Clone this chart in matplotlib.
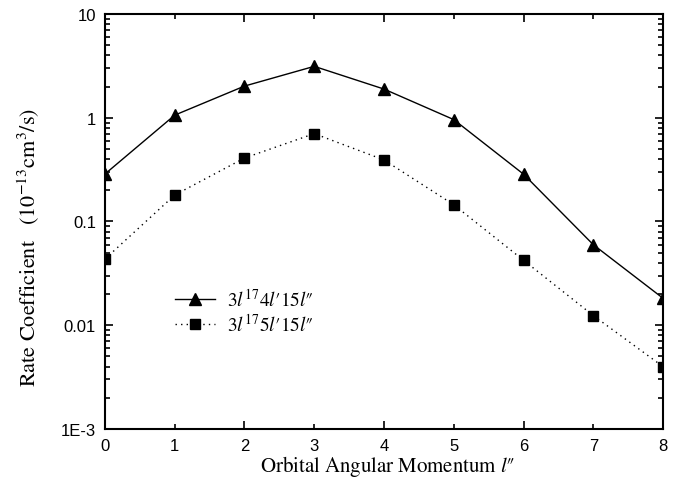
import matplotlib
matplotlib.use("Agg")
import matplotlib.pyplot as plt
from matplotlib.ticker import FixedLocator, FixedFormatter, LogLocator, NullFormatter

# Data
l_values = [0, 1, 2, 3, 4, 5, 6, 7, 8]
rate_4l = [0.287, 1.06, 2.02, 3.13, 1.89, 0.96, 0.286, 0.0598, 0.0182]
rate_5l = [0.0435, 0.18, 0.409, 0.703, 0.392, 0.145, 0.0423, 0.0124, 0.00399]
label_4l = "$3l^{17}4l\u203215l\u2033$"
label_5l = "$3l^{17}5l\u203215l\u2033$"
y_ticks = [1e-3, 1e-2, 1e-1, 1, 10]
y_ticklabels = ["1E-3", "0.01", "0.1", "1", "10"]
x_major = [0, 2, 4, 6, 8]
x_minor = [1, 3, 5, 7]

plt.rcParams['mathtext.fontset'] = 'stix'
plt.rcParams['font.family'] = 'Liberation Sans'

fig = plt.figure(figsize=(6.88, 4.89), dpi=100)
ax = fig.add_axes([0.1526, 0.1207, 0.9637 - 0.1526, 0.9693 - 0.1207])

ax.plot(l_values, rate_4l, color='black', lw=1.0, marker='^', markersize=9,
        label=label_4l)
ax.plot(l_values, rate_5l, color='black', lw=1.0, linestyle=(0, (1, 3)),
        marker='s', markersize=6.5, label=label_5l)

ax.set_yscale('log')
ax.set_ylim(1e-3, 10)
ax.set_xlim(0, 8)

ax.yaxis.set_major_locator(FixedLocator(y_ticks))
ax.yaxis.set_major_formatter(FixedFormatter(y_ticklabels))
ax.yaxis.set_minor_locator(LogLocator(base=10, subs=range(2, 10), numticks=20))
ax.yaxis.set_minor_formatter(NullFormatter())

ax.xaxis.set_major_locator(FixedLocator(x_major))
ax.xaxis.set_major_formatter(FixedFormatter([str(v) for v in x_major]))
ax.xaxis.set_minor_locator(FixedLocator(x_minor))
ax.xaxis.set_minor_formatter(FixedFormatter([str(v) for v in x_minor]))

ax.tick_params(which='both', direction='in', top=True, right=True, width=1.2,
               labelsize=12, colors='black', pad=6.5)
ax.tick_params(which='major', length=5.5)
ax.tick_params(which='minor', length=3.5)

for s in ax.spines.values():
    s.set_linewidth(1.5)

ax.set_xlabel("$\\mathrm{Orbital\\ Angular\\ Momentum}\\ l\u2033$", fontsize=15)
ax.xaxis.set_label_coords(0.506, -0.058)
ax.set_ylabel("$\\mathrm{Rate\\ Coefficient\\ \\ \\ (10^{-13}cm^{3}/s)}$", fontsize=16)
ax.yaxis.set_label_coords(-0.112, 0.44)

leg = ax.legend(loc='upper left', bbox_to_anchor=(0.125, 0.34), frameon=False,
                fontsize=14, handlelength=2.05, handletextpad=0.65,
                labelspacing=0.15, borderaxespad=0, borderpad=0)

fig.savefig('out.png', dpi=100)
